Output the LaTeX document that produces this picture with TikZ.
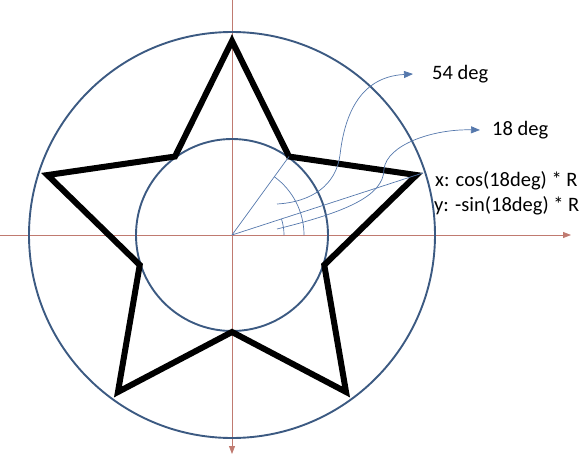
\documentclass[tikz,border=0pt]{standalone}
\usepackage{fontspec}
\setmainfont{Carlito}
\usetikzlibrary{arrows.meta}
\definecolor{ringblue}{RGB}{60,90,130}
\definecolor{guideblue}{RGB}{85,120,172}
\definecolor{axisred}{RGB}{192,122,112}

\tikzset{
	ring/.style={ringblue, line width=1.9pt},
	guide/.style={guideblue, line width=0.7pt},
	pointer/.style={guide, -{Triangle[length=9pt,width=7pt]}},
	axis/.style={axisred, line width=0.8pt, -{Triangle[length=8pt,width=6pt]}},
	lbl/.style={font=\fontsize{20.5}{24}\selectfont, inner sep=0pt, anchor=west}
}

\begin{document}
\begin{tikzpicture}[x=1pt,y=1pt]
	\useasboundingbox (-232,-226) rectangle (351,235);
	\coordinate (O) at (0,0);
	\coordinate (xl) at (-232,0);
	\coordinate (xr) at (339,0);
	\coordinate (yt) at (0,235);
	\coordinate (yb) at (0,-219);
	\draw[axis] (xl) -- (xr);
	\draw[axis] (yt) -- (yb);
	\draw[ring] (O) circle (203);
	\draw[ring] (O) circle (96);
	\foreach \i in {0,...,4}
	{
		\coordinate (p\i) at (18+72*\i:194);
		\coordinate (q\i) at (54+72*\i:97);
	}
	\draw[line width=6pt, line join=miter] (p0) -- (q0) -- (p1) -- (q1) -- (p2) -- (q2) -- (p3) -- (q3) -- (p4) -- (q4) -- cycle;
	\coordinate (v18) at (18:201);
	\draw[guide] (O) -- (q0);
	\draw[guide] (O) -- (v18);
	\draw[guide] (72,0) arc (0:54:72);
	\draw[guide] (52,0) arc (0:18:52);
	\node[lbl] (deg54) at (200,161) {54 deg};
	\node[lbl] (deg18) at (260,105) {18 deg};
	\node[lbl] (xform) at (203,54) {x: cos(18deg) * R};
	\node[lbl] (yform) at (202,29) {y: -sin(18deg) * R};
	\coordinate (s54) at (45,31);
	\coordinate (s18) at (45,6);
	\draw[pointer] (s54) .. controls (80,33) and (104,50) .. (108,80) .. controls (112,115) and (125,158) .. ([xshift=-19pt]deg54.west);
	\draw[pointer] (s18) .. controls (110,22) and (152,38) .. (152,66) .. controls (155,90) and (200,106) .. ([xshift=-12pt]deg18.west);
\end{tikzpicture}
\end{document}
